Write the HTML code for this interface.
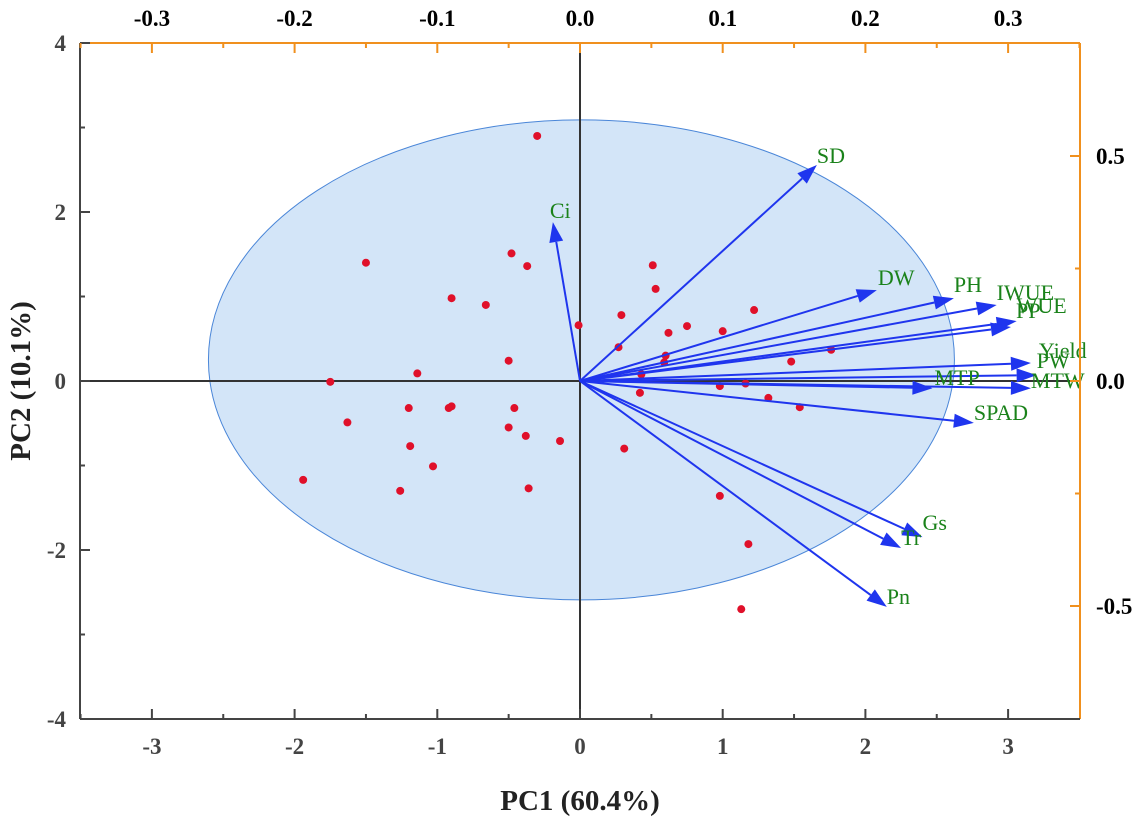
<!DOCTYPE html>
<html><head><meta charset="utf-8"><style>
html,body{margin:0;padding:0;background:#fff}
svg{display:block;font-family:"Liberation Serif",serif}
</style></head><body>
<svg id="chart" width="1143" height="821" viewBox="0 0 1143 821" xmlns="http://www.w3.org/2000/svg">
<g id="g"></g>
</svg>
<script>
const scoreX=[-0.30,-1.50,-0.48,-0.37,-0.90,-0.66,-0.01,0.29,-0.50,-1.14,-1.75,-1.20,-0.92,-0.90,-0.46,-1.63,-0.50,-0.38,-1.19,-1.03,-1.26,-1.94,-0.36,-0.14,0.31,0.51,0.53,0.27,0.62,0.75,1.00,1.22,0.60,0.59,0.42,0.43,0.98,1.16,1.76,1.48,1.32,1.54,0.98,1.18,1.13];
const scoreY=[2.90,1.40,1.51,1.36,0.98,0.90,0.66,0.78,0.24,0.09,-0.01,-0.32,-0.32,-0.30,-0.32,-0.49,-0.55,-0.65,-0.77,-1.01,-1.30,-1.17,-1.27,-0.71,-0.80,1.37,1.09,0.40,0.57,0.65,0.59,0.84,0.30,0.22,-0.14,0.08,-0.06,-0.03,0.37,0.23,-0.20,-0.31,-1.36,-1.93,-2.70];
const varNames=["SD","Ci","DW","PH","IWUE","WUE","PP","Yield","PW","MTW","MTP","SPAD","Gs","Tr","Pn"];
const loadX=[0.166,-0.019,0.208,0.262,0.292,0.306,0.302,0.316,0.320,0.316,0.247,0.276,0.240,0.225,0.215];
const loadY=[0.480,0.353,0.202,0.184,0.169,0.133,0.120,0.040,0.013,-0.016,-0.016,-0.093,-0.347,-0.371,-0.502];
const labelDX=[0,-3,1,0,0,0,5,8,0,0,2,0,0,0,0];
const labelDY=[-2,-4,-5,-6,-5,-8,-9,-5,-7,0,-3,-3,-7,-3,-3];
const bottomTicks=[-3,-2,-1,0,1,2,3];
const leftTicks=[-4,-2,0,2,4];
const topTicks=[-0.3,-0.2,-0.1,0.0,0.1,0.2,0.3];
const rightTicks=[-0.5,0.0,0.5];

const L=80,R=1080,T=43,B=719,X0=580,Y0=381;
const sx=v=>X0+v*142.7, sy=v=>Y0-v*84.5;
const tx=v=>X0+v*1427, ty=v=>Y0-v*450;
const g=document.getElementById('g');
const NS='http://www.w3.org/2000/svg';
function mk(t,a,p){const e=document.createElementNS(NS,t);for(const k in a)e.setAttribute(k,a[k]);(p||g).appendChild(e);return e;}

let e=mk('ellipse',{cx:sx(0.01),cy:sy(0.25),rx:373,ry:240,fill:'#d3e5f8',stroke:'#4a86d8','stroke-width':1});


e=mk('line',{x1:L,y1:Y0,x2:R,y2:Y0,stroke:'#333','stroke-width':2});


e=mk('line',{x1:X0,y1:T,x2:X0,y2:B,stroke:'#333','stroke-width':2});



scoreX.forEach((v,i)=>{
  const c=mk('circle',{cx:sx(v),cy:sy(scoreY[i]),r:4,fill:'#e0102a'});
  
  
});

varNames.forEach((n,i)=>{
  const x2=tx(loadX[i]),y2=ty(loadY[i]);
  const ang=Math.atan2(y2-Y0,x2-X0);
  const hl=20,hw=7;
  const bx=x2-hl*Math.cos(ang),by=y2-hl*Math.sin(ang);
  const ln=mk('line',{x1:X0,y1:Y0,x2:bx,y2:by,stroke:'#1f35ee','stroke-width':2});
  
  
  const px=-Math.sin(ang)*hw,py=Math.cos(ang)*hw;
  const hd=mk('polygon',{points:`${x2},${y2} ${bx+px},${by+py} ${bx-px},${by-py}`,fill:'#1f35ee'});
  
  
  const t=mk('text',{x:x2+labelDX[i],y:y2+labelDY[i],fill:'#1a821a','font-size':22});
  t.textContent=n;
  
  
});

e=mk('line',{x1:L,y1:T,x2:R,y2:T,stroke:'#f0901e','stroke-width':2});


e=mk('line',{x1:R,y1:T,x2:R,y2:B,stroke:'#f0901e','stroke-width':2});


e=mk('line',{x1:L,y1:T,x2:L,y2:B,stroke:'#444','stroke-width':2});


e=mk('line',{x1:L,y1:B,x2:R,y2:B,stroke:'#444','stroke-width':2});



function txt(s,x,y,anchor,fill,size,name){const t=mk('text',{x:x,y:y,'text-anchor':anchor,fill:fill,'font-size':size,'font-weight':'bold'});t.textContent=s;return t;}

bottomTicks.forEach(v=>{mk('line',{x1:sx(v),y1:B,x2:sx(v),y2:B-10,stroke:'#444','stroke-width':2});
  if(v<3)mk('line',{x1:sx(v+0.5),y1:B,x2:sx(v+0.5),y2:B-5,stroke:'#444','stroke-width':2});
  txt(String(v),sx(v),B+35,'middle','#444',23,'bottom-tick-label');});
mk('line',{x1:sx(-3.5),y1:B,x2:sx(-3.5),y2:B-5,stroke:'#444','stroke-width':2});
leftTicks.forEach(v=>{mk('line',{x1:L,y1:sy(v),x2:L+10,y2:sy(v),stroke:'#444','stroke-width':2});
  if(v<4)mk('line',{x1:L,y1:sy(v+1),x2:L+5,y2:sy(v+1),stroke:'#444','stroke-width':2});
  txt(String(v),L-14,sy(v)+8,'end','#444',23,'left-tick-label');});
topTicks.forEach(v=>{mk('line',{x1:tx(v),y1:T,x2:tx(v),y2:T+10,stroke:'#f0901e','stroke-width':2});
  mk('line',{x1:tx(v+0.05),y1:T,x2:tx(v+0.05),y2:T+5,stroke:'#f0901e','stroke-width':2});
  txt(v.toFixed(1),tx(v),T-17,'middle','#000',23,'top-tick-label');});
mk('line',{x1:tx(-0.35),y1:T,x2:tx(-0.35),y2:T+5,stroke:'#f0901e','stroke-width':2});
rightTicks.forEach(v=>{mk('line',{x1:R,y1:ty(v),x2:R-10,y2:ty(v),stroke:'#f0901e','stroke-width':2});
  txt(v.toFixed(1),R+16,ty(v)+8,'start','#000',23,'right-tick-label');});
[-0.25,0.25].forEach(v=>mk('line',{x1:R,y1:ty(v),x2:R-5,y2:ty(v),stroke:'#f0901e','stroke-width':2}));

txt('PC1 (60.4%)',580,810,'middle','#222',29,'x-axis-title');
const yt=txt('PC2 (10.1%)',0,0,'middle','#222',29,'y-axis-title');
yt.setAttribute('transform','translate(30,381) rotate(-90)');
</script>
</body></html>
